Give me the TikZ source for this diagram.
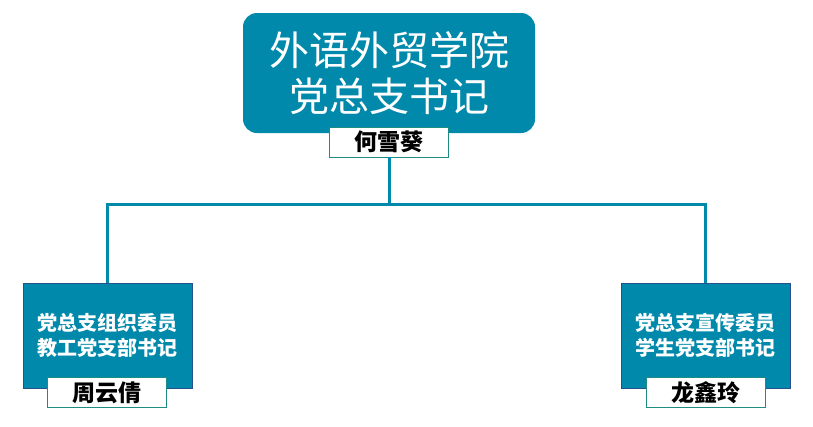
\documentclass[tikz,border=0pt]{standalone}
\usepackage{fontspec}
\newfontfamily\cjk{Noto Sans CJK SC}
\definecolor{teal1}{RGB}{0,137,170}
\definecolor{edge1}{RGB}{40,80,140}
\definecolor{name1}{RGB}{30,140,130}
\tikzset{
  head/.style={fill=teal1, rounded corners=14pt, minimum width=292pt, minimum height=120pt,
    text=white, font=\cjk\fontsize{40}{46}\selectfont, align=center, inner sep=0pt},
  member/.style={fill=teal1, draw=edge1, line width=0.8pt, minimum width=169pt, minimum height=105pt,
    text=white, font=\cjk\bfseries\fontsize{20}{25}\selectfont, align=center, inner sep=0pt},
  namebox/.style={fill=white, draw=name1, line width=0.8pt, minimum width=119pt, minimum height=30pt,
    font=\cjk\bfseries\fontsize{23}{24}\selectfont, inner sep=0pt},
  link/.style={teal1, line width=3pt}
}
\begin{document}
\begin{tikzpicture}[x=1pt,y=-1pt]
 \useasboundingbox (0,0) rectangle (813,426);
 % top
 \node[head] (dean) at (389,73) {外语外贸学院\\党总支书记};
 \node[namebox] (deanname) at (389,142) {何雪葵};
 % members
 \node[member] (left) at (107.5,335.5) {党总支组织委员\\教工党支部书记};
 \node[namebox] (leftname) at (106.5,392.5) {周云倩};
 \node[member] (right) at (705.5,335.5) {党总支宣传委员\\学生党支部书记};
 \node[namebox] (rightname) at (705.5,392.5) {龙鑫玲};
 % connectors
 \coordinate (split) at (389,204);
 \draw[link] (deanname.south) -- (split);
 \draw[link] (left.north) |- (split) -| (right.north);
\end{tikzpicture}
\end{document}
